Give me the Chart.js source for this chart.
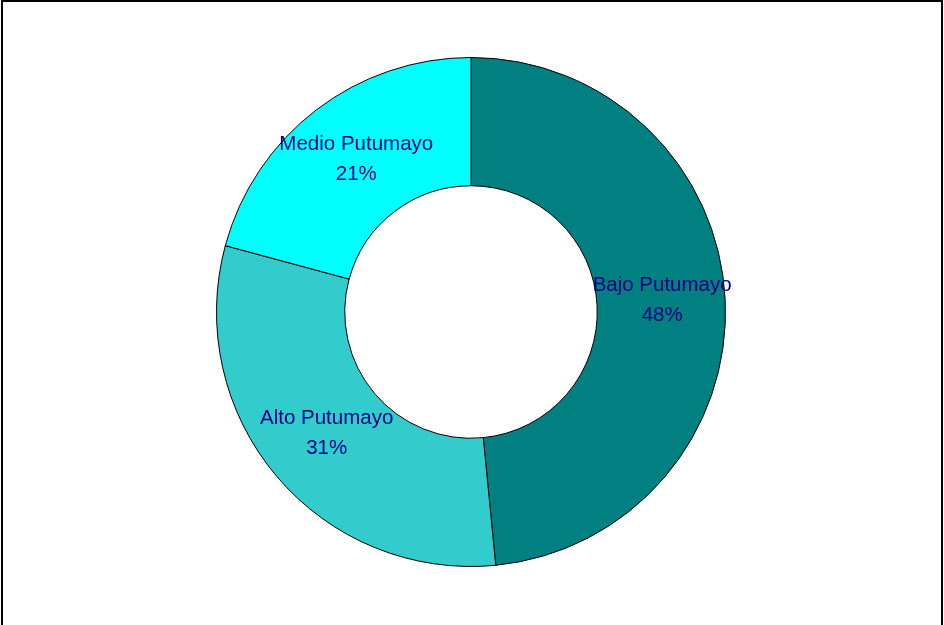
<!DOCTYPE html>
<html>
<head>
<meta charset="utf-8">
<script src="https://cdn.jsdelivr.net/npm/chart.js@4/dist/chart.umd.min.js"></script>
<style>
    html, body { margin: 0; padding: 0; background: #fff; }
    #wrap { position: relative; width: 944px; height: 625px; }
</style>
</head>
<body>
<div id="wrap"><canvas id="chart" width="944" height="625"></canvas></div>
<script>
// Data
const categories = ['Bajo Putumayo', 'Alto Putumayo', 'Medio Putumayo'];
const shares = [48.45, 30.75, 20.8];
const colors = ['#008080', '#33CCCC', '#00FFFF'];

// Outer frame of the picture
const framePlugin = {
    id: 'frame',
    beforeDraw(chart) {
        const ctx = chart.ctx;
        ctx.save();
        ctx.fillStyle = '#fff';
        ctx.fillRect(0, 0, chart.width, chart.height);
        ctx.strokeStyle = '#000';
        ctx.lineWidth = 2;
        ctx.strokeRect(2, 1, 940, 700);
        ctx.restore();
    }
};

// Name and percentage in the middle of each slice
const sliceLabels = {
    id: 'sliceLabels',
    afterDatasetsDraw(chart) {
        const ctx = chart.ctx;
        const meta = chart.getDatasetMeta(0);
        const data = chart.data.datasets[0].data;
        const total = data.reduce((a, b) => a + b, 0);
        ctx.save();
        ctx.fillStyle = '#000080';
        ctx.font = '20.5px "Liberation Sans", Arial, sans-serif';
        ctx.textAlign = 'center';
        ctx.textBaseline = 'middle';
        meta.data.forEach((arc, i) => {
            const p = arc.getCenterPoint();
            const pct = Math.round(data[i] / total * 100) + '%';
            ctx.fillText(chart.data.labels[i], p.x + 1, p.y - 17);
            ctx.fillText(pct, p.x + 1, p.y + 13);
        });
        ctx.restore();
    }
};

new Chart(document.getElementById('chart'), {
    type: 'doughnut',
    data: {
        labels: categories,
        datasets: [{
            data: shares,
            backgroundColor: colors,
            borderColor: '#000',
            borderWidth: 1,
            hoverOffset: 0
        }]
    },
    options: {
        responsive: false,
        animation: false,
        cutout: '49.6%',
        layout: { padding: { left: 216, right: 218, top: 57, bottom: 58 } },
        events: [],
        plugins: {
            legend: { display: false },
            tooltip: { enabled: false }
        }
    },
    plugins: [framePlugin, sliceLabels]
});
</script>
</body>
</html>
